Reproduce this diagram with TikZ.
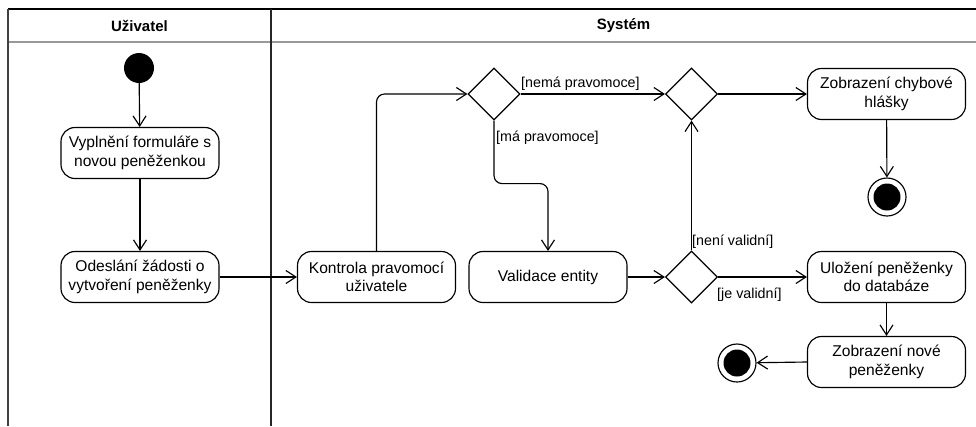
\documentclass[tikz,border=0pt]{standalone}
\usepackage{fontspec}
\setmainfont{Liberation Sans}
\usetikzlibrary{arrows.meta,shapes.geometric}
\begin{document}
\begin{tikzpicture}[x=1pt,y=-1pt,
  act/.style={draw, line width=1.15pt, rounded corners=14pt, minimum width=158pt, minimum height=51pt, inner sep=0pt, align=center, font=\fontsize{15.6}{18.5}\selectfont},
  dec/.style={draw, diamond, line width=1.15pt, minimum width=52pt, minimum height=52pt, inner sep=0pt},
  startnode/.style={circle, fill=black, minimum size=30pt, inner sep=0pt},
  endnode/.style={circle, draw, line width=1.15pt, minimum size=38pt, inner sep=0pt, path picture={\fill (path picture bounding box.center) circle (13.5pt);}},
  arr/.style={line width=1.15pt, -{Straight Barb[length=10pt,width=13pt,line width=1.15pt]}},
  lbl/.style={font=\fontsize{14.3}{17}\selectfont, inner sep=0pt, anchor=west},
  hdr/.style={font=\bfseries\fontsize{15}{18}\selectfont}
]
\useasboundingbox (0,0) rectangle (976,426);
% swimlanes
\draw[line width=1.5pt, black] (8,9) -- (976,9);
\draw[line width=1.5pt, black!40] (8,42) -- (976,42);
\draw[line width=1.5pt, black!75] (8,9) -- (8,426);
\draw[line width=2pt, black!85] (271,9) -- (271,426);
\node[hdr] (h1) at (139.5,25.5) {Uživatel};
\node[hdr] (h2) at (623.5,25.5) {Systém};
% nodes
\node[startnode] (s) at (139,68) {};
\node[act] (a1) at (140,153) {Vyplnění formuláře s\\novou peněženkou};
\node[act] (a2) at (140,277) {Odeslání žádosti o\\vytvoření peněženky};
\node[act] (a3) at (376.5,277) {Kontrola pravomocí\\uživatele};
\node[act] (a4) at (548,277) {Validace entity};
\node[dec] (d1) at (494,94) {};
\node[dec] (d2) at (691.5,94) {};
\node[dec] (d3) at (691.5,277) {};
\node[act] (a5) at (886.5,94) {Zobrazení chybové\\hlášky};
\node[endnode] (e1) at (887,197) {};
\node[act] (a6) at (886.5,277) {Uložení peněženky\\do databáze};
\node[act] (a7) at (886.5,362) {Zobrazení nové\\peněženky};
\node[endnode] (e2) at (737,363) {};
% connectors
\draw[arr] (s) -- (a1);
\draw[arr] (a1) -- (a2);
\draw[arr] (a2) -- (a3);
\draw[arr, rounded corners=8pt] (a3.north) |- (d1.west);
\draw[arr, rounded corners=8pt] (d1.south) -- ++(0,63) -| (a4.north);
\draw[arr] (d1.east) -- (d2.west);
\draw[arr] (d2.east) -- (a5.west);
\draw[arr] (a5) -- (e1);
\draw[arr] (a4.east) -- (d3.west);
\draw[arr] (d3.north) -- (d2.south);
\draw[arr] (d3.east) -- (a6.west);
\draw[arr] (a6) -- (a7);
\draw[arr] (a7.west) -- (e2);
% labels
\node[lbl] (l1) at (521,84) {[nemá pravomoce]};
\node[lbl] (l2) at (496,138) {[má pravomoce]};
\node[lbl] (l3) at (692,242) {[není validní]};
\node[lbl] (l4) at (717,295) {[je validní]};
\end{tikzpicture}
\end{document}
